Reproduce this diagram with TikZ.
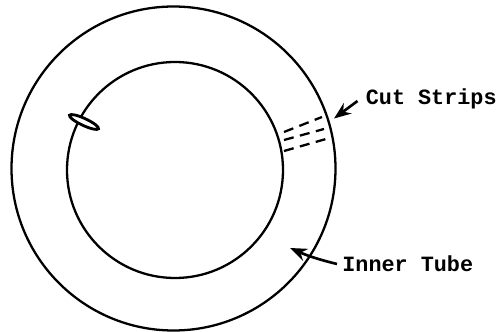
\documentclass[tikz,border=0pt]{standalone}
\usepackage{fontspec}
\setmonofont{Liberation Mono}
\usetikzlibrary{arrows.meta}
\tikzset{
  tubeline/.style={line width=1.3pt,black},
  striplabel/.style={anchor=west,inner sep=0pt,font=\ttfamily\bfseries\fontsize{12.4}{14}\selectfont},
  pointer/.style={line width=1.5pt,-{Stealth[length=3.4mm,width=2.6mm]}},
  cutline/.style={line width=1.3pt,dash pattern=on 2mm off 1.3mm}
}
\begin{document}
\begin{tikzpicture}
  \useasboundingbox (0,0) rectangle (9.98,6.64);
  % --- tube walls ---
  \draw[tubeline] (3.47,3.27) circle (3.24);
  \draw[tubeline] (3.50,3.24) circle (2.16);
  % --- valve ---
  \draw[tubeline,line width=1.6pt,fill=white,rotate around={-25:(1.68,4.20)}] (1.68,4.20) ellipse (0.32 and 0.07);
  % --- strips across the tube ---
  \foreach \ya/\xb/\yb in {4.00/6.44/4.30, 3.84/6.48/4.06, 3.62/6.52/3.86}
    \draw[cutline] (5.68,\ya) -- (\xb,\yb);
  % --- labels ---
  \node[striplabel] (cutstrips) at (7.31,4.66) {Cut Strips};
  \node[striplabel] (innertube) at (6.84,1.36) {Inner Tube};
  \coordinate (cutend) at (6.68,4.27);
  \coordinate (tubeend) at (5.80,1.68);
  \draw[pointer] (cutstrips.west) ++(-0.16,-0.04) -- (cutend);
  \draw[pointer] (innertube.west) ++(-0.10,0) to[bend left=5] (tubeend);
\end{tikzpicture}
\end{document}
